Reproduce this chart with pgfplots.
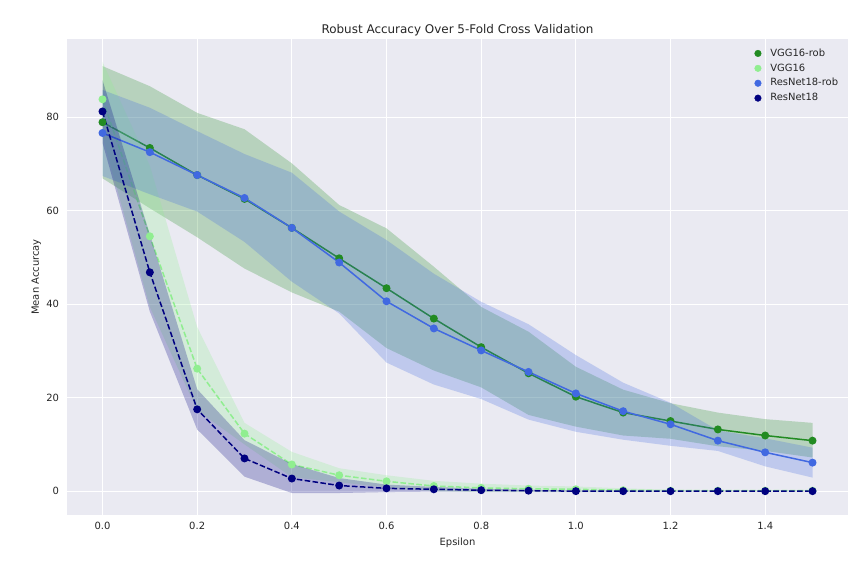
\documentclass[border=0pt]{standalone}
\usepackage{fontspec}
\setmainfont{DejaVu Sans}
\usepackage{pgfplots}
\pgfplotsset{compat=1.18}
\definecolor{bg}{HTML}{EAEAF2}
\definecolor{txt}{HTML}{262626}
\definecolor{vggrob}{RGB}{34,139,34}
\definecolor{vgg}{RGB}{144,238,144}
\definecolor{resrob}{RGB}{65,105,225}
\definecolor{res}{RGB}{0,0,128}
\begin{document}
\begin{tikzpicture}[x=1bp,y=1bp]
\useasboundingbox[fill=white] (0,0) rectangle (864,576);
\begin{axis}[
  at={(67bp,61bp)}, anchor=south west,
  scale only axis, width=781bp, height=476bp,
  xmin=-0.075, xmax=1.575, ymin=-5.1, ymax=96.7,
  axis background/.style={fill=bg},
  axis line style={draw=none},
  major tick length=0pt,
  grid=major, grid style={white, line width=1bp},
  xtick={0,0.2,0.4,0.6,0.8,1.0,1.2,1.4},
  ytick={0,20,40,60,80},
  /pgf/number format/assume math mode=true,
  xticklabel style={/pgf/number format/fixed, /pgf/number format/fixed zerofill, /pgf/number format/precision=1, yshift=-3.5bp},
  tick label style={font=\fontsize{10}{12}\selectfont, color=txt},
  yticklabel style={xshift=-4.4bp},
  xlabel={Epsilon}, ylabel={Mean Accurcay},
  label style={font=\fontsize{10}{12}\selectfont, color=txt},
  xlabel style={yshift=-1.5bp},
  ylabel style={yshift=-1.5bp},
  title={Robust Accuracy Over 5-Fold Cross Validation},
  title style={font=\fontsize{12}{14}\selectfont, color=txt, yshift=-6bp},
  legend style={draw=none, fill=none, at={(rel axis cs:1,1)}, anchor=north east,
    xshift=-9.7bp, yshift=-9.5bp, inner sep=0pt,
    font=\fontsize{10}{12}\selectfont, text=txt,
    nodes={inner sep=0pt, text height=7.5bp, text depth=2bp},
    row sep=5.4bp, column sep=9bp},
  legend cell align=left,
]
\addlegendimage{only marks, mark=*, mark size=3.3bp, vggrob}\addlegendentry{VGG16-rob}
\addlegendimage{only marks, mark=*, mark size=3.3bp, vgg}\addlegendentry{VGG16}
\addlegendimage{only marks, mark=*, mark size=3.3bp, resrob}\addlegendentry{ResNet18-rob}
\addlegendimage{only marks, mark=*, mark size=3.3bp, res}\addlegendentry{ResNet18}

% VGG16-rob
\addplot[forget plot, vggrob, line width=1.5bp, mark=*, mark size=3.2bp] coordinates {
(0,78.9)(0.1,73.4)(0.2,67.6)(0.3,62.5)(0.4,56.3)(0.5,49.8)(0.6,43.4)(0.7,36.9)
(0.8,30.8)(0.9,25.2)(1.0,20.2)(1.1,16.8)(1.2,15.0)(1.3,13.2)(1.4,11.9)(1.5,10.8)};
\addplot[forget plot, draw=none, fill=vggrob, fill opacity=0.25] coordinates {
(0,90.9)(0.1,86.6)(0.2,80.9)(0.3,77.4)(0.4,70.1)(0.5,61.2)(0.6,56.2)(0.7,48.0)
(0.8,39.4)(0.9,34.1)(1.0,26.6)(1.1,21.7)(1.2,18.8)(1.3,16.8)(1.4,15.4)(1.5,14.6)
(1.5,7.2)(1.4,8.6)(1.3,9.6)(1.2,11.2)(1.1,11.9)(1.0,13.8)(0.9,16.3)(0.8,22.2)
(0.7,25.8)(0.6,30.6)(0.5,38.4)(0.4,42.5)(0.3,47.6)(0.2,54.3)(0.1,60.5)(0,66.9)} -- cycle;

% VGG16
\addplot[forget plot, vgg, line width=1.5bp, dash pattern=on 5.55bp off 2.4bp, mark=*, mark size=3.2bp, mark options={solid}] coordinates {
(0,83.8)(0.1,54.5)(0.2,26.2)(0.3,12.3)(0.4,5.7)(0.5,3.4)(0.6,2.1)(0.7,1.1)
(0.8,0.7)(0.9,0.5)(1.0,0.4)(1.1,0.2)(1.2,0.1)(1.3,0.1)(1.4,0.1)(1.5,0.1)};
\addplot[forget plot, draw=none, fill=vgg, fill opacity=0.25] coordinates {
(0,91.8)(0.1,69.6)(0.2,35.1)(0.3,14.6)(0.4,8.4)(0.5,4.9)(0.6,3.4)(0.7,2.2)
(0.8,1.6)(0.9,1.2)(1.0,1.0)(1.1,0.6)(1.2,0.3)(1.3,0.2)(1.4,0.2)(1.5,0.2)
(1.5,0.0)(1.4,0.0)(1.3,0.0)(1.2,-0.1)(1.1,-0.2)(1.0,-0.2)(0.9,-0.2)(0.8,-0.2)
(0.7,0.0)(0.6,0.8)(0.5,1.9)(0.4,3.0)(0.3,10.0)(0.2,17.3)(0.1,39.4)(0,75.8)} -- cycle;

% ResNet18-rob
\addplot[forget plot, resrob, line width=1.5bp, mark=*, mark size=3.2bp] coordinates {
(0,76.6)(0.1,72.5)(0.2,67.6)(0.3,62.7)(0.4,56.3)(0.5,48.9)(0.6,40.6)(0.7,34.8)
(0.8,30.1)(0.9,25.5)(1.0,20.9)(1.1,17.1)(1.2,14.3)(1.3,10.8)(1.4,8.3)(1.5,6.1)};
\addplot[forget plot, draw=none, fill=resrob, fill opacity=0.25] coordinates {
(0,85.8)(0.1,82.0)(0.2,77.0)(0.3,72.1)(0.4,68.1)(0.5,59.8)(0.6,53.7)(0.7,46.5)
(0.8,40.5)(0.9,35.7)(1.0,29.1)(1.1,23.2)(1.2,18.9)(1.3,13.0)(1.4,11.3)(1.5,9.3)
(1.5,2.9)(1.4,5.3)(1.3,8.6)(1.2,9.7)(1.1,11.0)(1.0,12.7)(0.9,15.3)(0.8,19.7)
(0.7,22.8)(0.6,27.5)(0.5,38.0)(0.4,44.8)(0.3,53.3)(0.2,59.8)(0.1,63.5)(0,67.4)} -- cycle;

% ResNet18
\addplot[forget plot, res, line width=1.5bp, dash pattern=on 5.55bp off 2.4bp, mark=*, mark size=3.2bp, mark options={solid}] coordinates {
(0,81.2)(0.1,46.8)(0.2,17.5)(0.3,7.0)(0.4,2.7)(0.5,1.2)(0.6,0.6)(0.7,0.4)
(0.8,0.2)(0.9,0.1)(1.0,0.0)(1.1,0.0)(1.2,0.0)(1.3,0.0)(1.4,0.0)(1.5,0.0)};
\addplot[forget plot, draw=none, fill=res, fill opacity=0.25] coordinates {
(0,87.9)(0.1,54.9)(0.2,21.8)(0.3,10.9)(0.4,5.8)(0.5,2.8)(0.6,1.4)(0.7,0.9)
(0.8,0.5)(0.9,0.3)(1.0,0.1)(1.1,0.1)(1.2,0.05)(1.3,0.05)(1.4,0.05)(1.5,0.05)
(1.5,-0.05)(1.4,-0.05)(1.3,-0.05)(1.2,-0.05)(1.1,-0.1)(1.0,-0.1)(0.9,-0.1)(0.8,-0.1)
(0.7,-0.1)(0.6,-0.2)(0.5,-0.4)(0.4,-0.4)(0.3,3.1)(0.2,13.2)(0.1,38.4)(0,74.5)} -- cycle;
\end{axis}
\end{tikzpicture}
\end{document}
